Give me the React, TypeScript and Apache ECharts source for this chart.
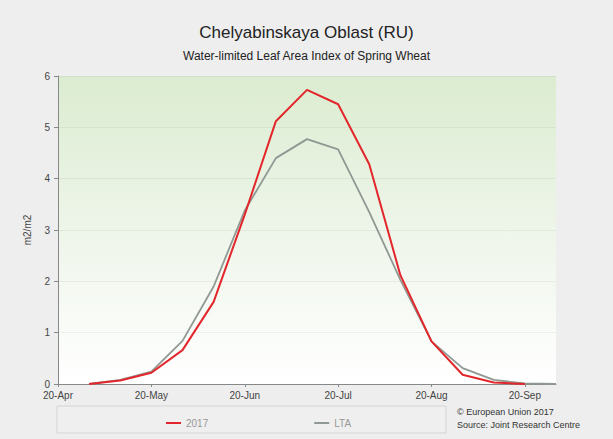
import React, { useEffect, useRef } from "react";
import * as echarts from "echarts";

const dekads = [
  "20-Apr", "30-Apr", "10-May", "20-May", "31-May", "10-Jun", "20-Jun", "30-Jun",
  "10-Jul", "20-Jul", "31-Jul", "10-Aug", "20-Aug", "31-Aug", "10-Sep", "20-Sep", "30-Sep",
];
const values2017 = [null, 0, 0.07, 0.22, 0.66, 1.6, 3.3, 5.12, 5.73, 5.45, 4.28, 2.12, 0.83, 0.18, 0.03, 0, null];
const valuesLTA = [null, 0, 0.08, 0.24, 0.84, 1.9, 3.38, 4.4, 4.77, 4.57, 3.35, 2.03, 0.83, 0.31, 0.08, 0.01, 0];
const yTicks = [0, 1, 2, 3, 4, 5, 6];

export default function App() {
  const ref = useRef<HTMLDivElement>(null);
  useEffect(() => {
    document.body.style.margin = "0";
    const chart = echarts.init(ref.current!, null, { renderer: "svg" });
    const font = "Liberation Sans, Arial, sans-serif";
    chart.setOption({
      animation: false,
      backgroundColor: "#eeeeee",
      textStyle: { fontFamily: font },
      title: [
        {
          text: "Chelyabinskaya Oblast (RU)",
          left: "center",
          top: 19,
          textStyle: { fontSize: 17, fontWeight: "normal", color: "#222", fontFamily: font },
        },
        {
          text: "Water-limited Leaf Area Index of Spring Wheat",
          left: "center",
          top: 45,
          textStyle: { fontSize: 12, fontWeight: "normal", color: "#222", fontFamily: font },
        },
      ],
      grid: {
        left: 58,
        top: 76,
        right: 57,
        bottom: 55,
        show: true,
        borderWidth: 0,
        backgroundColor: new echarts.graphic.LinearGradient(0, 0, 0, 1, [
          { offset: 0, color: "#dbecd0" },
          { offset: 0.55, color: "#f0f6ec" },
          { offset: 1, color: "#ffffff" },
        ]),
      },
      legend: {
        left: 161,
        top: 413,
        itemWidth: 15,
        itemHeight: 2,
        itemGap: 106,
        icon: "rect",
        textStyle: { color: "#999", fontSize: 10, fontFamily: font },
        data: ["2017", "LTA"],
      },
      graphic: [
        {
          type: "rect",
          shape: { x: 57, y: 406, width: 389, height: 27 },
          style: { fill: "#efefef", stroke: "#d4d4d4", lineWidth: 1 },
          z: -1,
        },
        {
          type: "text",
          left: 457,
          top: 405,
          style: {
            text: "© European Union 2017\nSource: Joint Research Centre",
            fill: "#333",
            fontSize: 9,
            lineHeight: 13,
            fontFamily: font,
          },
        },
      ],
      xAxis: {
        type: "category",
        data: dekads,
        boundaryGap: false,
        axisLine: { lineStyle: { color: "#888" } },
        axisTick: { interval: 2, length: 3, lineStyle: { color: "#888" } },
        axisLabel: { interval: 2, color: "#444", fontSize: 10, margin: 6, fontFamily: font },
        splitLine: { show: false },
      },
      yAxis: {
        type: "value",
        min: yTicks[0],
        max: yTicks[yTicks.length - 1],
        interval: 1,
        name: "m2/m2",
        nameLocation: "middle",
        nameGap: 26,
        nameTextStyle: { color: "#444", fontSize: 10, fontFamily: font },
        axisLine: { show: true, lineStyle: { color: "#888" } },
        axisTick: { show: true, length: 4, lineStyle: { color: "#888" } },
        axisLabel: { color: "#444", fontSize: 10, margin: 8, fontFamily: font },
        splitLine: { lineStyle: { color: "rgba(0,0,0,0.05)" } },
      },
      series: [
        {
          name: "2017",
          type: "line",
          data: values2017,
          showSymbol: false,
          symbol: "none",
          itemStyle: { color: "#e3262b" },
          lineStyle: { color: "#e3262b", width: 2 },
          z: 3,
        },
        {
          name: "LTA",
          type: "line",
          data: valuesLTA,
          showSymbol: false,
          symbol: "none",
          itemStyle: { color: "#8f9893" },
          lineStyle: { color: "#8f9893", width: 1.8 },
          z: 2,
        },
      ],
    });
    return () => chart.dispose();
  }, []);
  return <div ref={ref} style={{ width: 613, height: 439 }} />;
}
